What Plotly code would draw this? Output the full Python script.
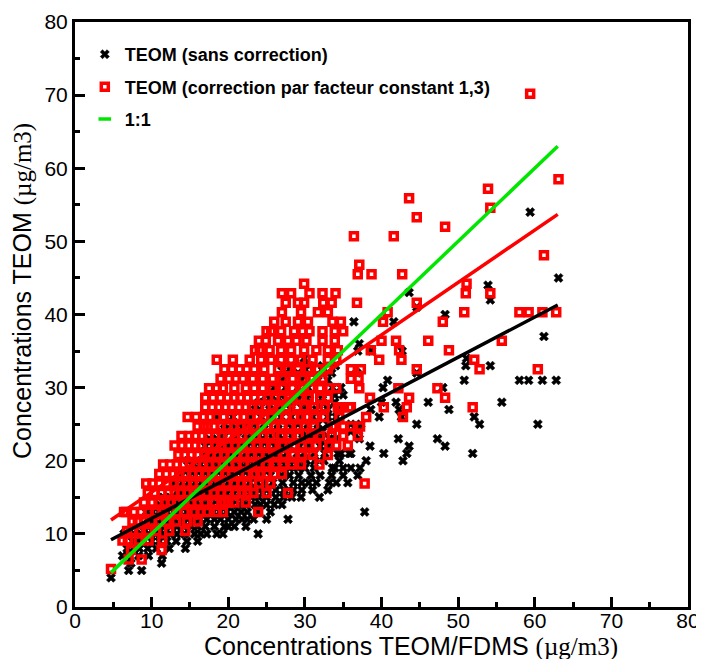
import plotly.graph_objects as go

# ---------------- data ----------------
# TEOM (raw) values lie on an integer grid; for every TEOM row, the FDMS x-values of its points
teom_rows = [4, 5, 6, 7, 8, 9, 10, 11, 12, 13, 14, 15, 16, 17, 18, 19, 20, 21, 22, 23, 24,
             25, 26, 27, 28, 29, 30, 31, 32, 33, 34, 35, 36, 37, 39, 40, 41, 42, 43, 44, 45, 54]
# the same rows after correction by the constant factor 1,3 (red squares)
teom_corr_rows = [5.2, 6.5, 7.8, 9.1, 10.4, 11.7, 13.0, 14.3, 15.6, 16.9, 18.2, 19.5, 20.8, 22.1,
                  23.4, 24.7, 26.0, 27.3, 28.6, 29.9, 31.2, 32.5, 33.8, 35.1, 36.4, 37.7, 39.0,
                  40.3, 41.6, 42.9, 44.2, 45.5, 46.8, 48.1, 50.7, 52.0, 53.3, 54.6, 55.9, 57.2,
                  58.5, 70.2]
fdms_by_row = [
    [4.7],
    [7.0, 8.7],
    [7.3, 11.3],
    [6.2, 6.9, 8.3, 9.6, 11.4],
    [6.8, 7.6, 8.4, 9.5, 10.6, 12.3, 14.4],
    [7.5, 8.2, 9.0, 10.0, 11.0, 12.0, 13.2, 14.6, 16.0],
    [6.4, 6.7, 7.7, 8.6, 9.6, 10.5, 11.5, 12.4, 13.3, 14.3, 15.6, 16.4, 17.2, 18.5, 19.3, 23.9],
    [9.0, 10.1, 10.9, 11.7, 12.5, 13.3, 14.2, 15.2, 16.0, 17.0, 18.2, 19.5, 20.0, 20.8, 22.3],
    [9.5, 10.4, 11.3, 12.2, 13.0, 13.8, 14.7, 15.5, 16.3, 17.2, 18.2, 19.0, 20.0, 21.0, 21.8,
     22.5, 23.3, 25.0, 27.8],
    [9.3, 10.1, 11.0, 12.0, 12.9, 13.7, 14.6, 15.4, 16.3, 17.2, 18.0, 18.9, 19.8, 20.8, 21.7,
     22.5, 24.0, 25.5, 37.8],
    [11.0, 11.9, 12.8, 13.6, 14.5, 15.3, 16.2, 17.0, 17.9, 18.8, 19.6, 20.5, 21.4, 22.3, 23.5,
     24.2, 25.0, 26.0, 27.0],
    [11.5, 12.4, 13.3, 14.1, 15.0, 15.8, 16.7, 17.5, 18.4, 19.3, 20.1, 21.0, 22.0, 23.0, 24.0,
     25.0, 26.2, 27.2, 28.3, 29.5, 31.9],
    [13.5, 14.3, 15.2, 16.0, 16.9, 17.7, 18.6, 19.5, 20.3, 21.2, 22.0, 23.0, 24.0, 25.0, 26.2,
     27.3, 28.5, 29.6, 31.0, 33.0],
    [13.0, 14.0, 14.8, 15.7, 16.5, 17.4, 18.3, 19.1, 20.0, 20.9, 21.8, 22.8, 23.8, 24.7, 25.8,
     27.1, 28.5, 29.6, 30.5, 31.5, 33.2, 34.1, 35.6],
    [13.9, 14.9, 15.7, 16.6, 17.4, 18.3, 19.2, 20.0, 20.9, 21.8, 22.7, 23.6, 24.5, 25.5, 26.9,
     28.0, 29.2, 30.8, 32.0, 33.5, 35.0, 36.9],
    [16.0, 16.8, 17.3, 18.2, 19.0, 19.9, 20.8, 21.6, 22.5, 23.4, 24.3, 25.2, 26.0, 27.0, 28.0,
     29.1, 30.0, 31.2, 33.6, 33.9, 35.0, 36.0, 37.2],
    [14.7, 15.8, 16.8, 17.6, 18.5, 19.4, 20.3, 21.2, 22.0, 22.9, 23.8, 24.7, 25.6, 26.5, 27.5,
     28.6, 29.5, 30.2, 31.3, 32.5, 34.5, 38.0, 42.8],
    [17.0, 17.9, 18.8, 19.6, 20.5, 21.4, 22.3, 23.1, 24.0, 24.9, 25.8, 26.7, 27.6, 29.0, 29.9,
     31.2, 32.6, 34.3, 34.7, 35.8, 36.0, 40.3, 43.3, 51.9],
    [17.0, 18.0, 19.0, 19.9, 20.8, 21.6, 22.5, 23.4, 24.3, 25.2, 26.1, 27.0, 28.0, 29.3, 30.5,
     32.0, 33.0, 38.5, 43.6, 48.3],
    [17.5, 18.5, 19.3, 20.8, 22.3, 23.4, 24.5, 25.8, 27.1, 28.4, 29.7, 30.8, 32.0, 33.2, 34.1,
     37.1, 42.2, 47.3],
    [19.0, 20.1, 21.0, 21.9, 23.2, 24.5, 25.8, 27.1, 28.4, 29.7, 31.0, 32.3, 36.0, 37.0],
    [19.5, 20.5, 21.5, 22.4, 23.4, 24.7, 26.5, 27.8, 29.1, 30.4, 31.7, 33.0, 36.0, 37.3, 44.6,
     52.8, 60.4],
    [18.5, 20.6, 22.8, 24.3, 25.6, 26.9, 28.2, 29.5, 31.0, 33.0, 34.1, 39.7, 42.6, 52.1],
    [23.5, 24.1, 25.4, 26.9, 28.2, 29.9, 31.5, 33.0, 34.3, 38.6, 42.3, 48.8],
    [24.0, 24.9, 26.5, 27.8, 28.9, 30.2, 32.3, 33.9, 40.0, 41.9, 46.1, 55.7],
    [25.0, 25.6, 26.9, 28.6, 29.7, 30.6, 32.3, 33.9, 35.0],
    [26.0, 27.5, 29.1, 30.4, 33.6, 34.7, 40.2, 48.0],
    [27.0, 29.5, 31.7, 33.0, 40.8, 50.8, 58.0, 59.2, 61.0, 62.8],
    [27.5, 29.1, 29.9, 32.4, 33.5, 36.8, 44.6],
    [27.0, 28.2, 30.6, 32.3, 34.0, 51.0, 54.2],
    [29.9, 51.1],
    [36.9, 38.7, 42.7],
    [37.1],
    [61.2],
    [36.4, 41.6],
    [48.3],
    [44.6],
    [54.2],
    [43.6],
    [53.9],
    [63.1],
    [59.4],
]

# fitted regression lines and the 1:1 line (end points)
fit_x = [4.7, 63.0]
fit_raw = [9.2, 41.3]
fit_corr = [11.9, 53.7]
one_to_one = [4.7, 63.0]

legend_labels = ["TEOM (sans correction)",
                 "TEOM (correction par facteur constant 1,3)",
                 "1:1"]

# ---------------- build point table ----------------
fdms, teom, teom_corr = [], [], []
for xs, yr, yc in zip(fdms_by_row, teom_rows, teom_corr_rows):
    for xv in xs:
        fdms.append(xv)
        teom.append(yr)
        teom_corr.append(yc)

SANS = "Liberation Sans, Arial, Helvetica, sans-serif"
SERIF = "Liberation Serif, Times New Roman, serif"
GREEN = "#00e600"

fig = go.Figure()
fig.add_trace(go.Scatter(
    x=fdms, y=teom, mode="markers", name=legend_labels[0], legendgroup="a",
    marker=dict(symbol="x", size=8, color="black", line=dict(width=0.6, color="black")),
))
fig.add_trace(go.Scatter(
    x=fdms, y=teom_corr, mode="markers", name=legend_labels[1], legendgroup="b",
    marker=dict(symbol="square-open", size=7, color="#ff0000", line=dict(width=3.5)),
))
fig.add_trace(go.Scatter(
    x=fit_x, y=fit_raw, mode="lines", showlegend=False, hoverinfo="skip",
    line=dict(color="black", width=3.5),
))
fig.add_trace(go.Scatter(
    x=fit_x, y=fit_corr, mode="lines", showlegend=False, hoverinfo="skip",
    line=dict(color="#ff0000", width=3.5),
))
fig.add_trace(go.Scatter(
    x=one_to_one, y=one_to_one, mode="lines", showlegend=False, legendgroup="c",
    line=dict(color=GREEN, width=3.5),
))
# legend entry of the 1:1 line (short dash symbol, as in the original)
fig.add_trace(go.Scatter(
    x=[None], y=[None], mode="markers", name=legend_labels[2], legendgroup="c",
    marker=dict(symbol="line-ew", size=9, color=GREEN, line=dict(width=3.5, color=GREEN)),
))

minor_ticks = dict(dtick=5, tick0=0, ticks="inside", ticklen=5, tickwidth=2.5,
                   tickcolor="black", showgrid=False)
axis_common = dict(
    range=[0, 80], dtick=10, tick0=0, tickmode="linear",
    showgrid=False, zeroline=False,
    showline=True, linecolor="black", linewidth=3, mirror=True,
    ticks="inside", ticklen=10, tickwidth=2.5, tickcolor="black",
    tickfont=dict(family=SANS, size=21, color="black"),
    minor=minor_ticks,
)

# the page body has an 8 px margin: the figure is drawn 8 px in from the top-left corner
fig.update_layout(
    template="none",
    width=696, height=651,
    margin=dict(l=67, r=16, t=14, b=52),
    paper_bgcolor="white", plot_bgcolor="white",
    font=dict(family=SANS, color="black"),
    xaxis=dict(**axis_common, ticklabelstandoff=-7),
    yaxis=dict(**axis_common),
    showlegend=True,
    legend=dict(
        x=0.016, y=0.976, xanchor="left", yanchor="top",
        bgcolor="rgba(0,0,0,0)", borderwidth=0,
        font=dict(family=SANS, size=18, color="black", weight="bold"),
        tracegroupgap=6,
    ),
    annotations=[
        dict(text="Concentrations TEOM/FDMS <span style='font-family:" + SERIF + "'>(µg/m3)</span>",
             xref="paper", yref="paper", x=0.548, y=-0.068,
             xanchor="center", yanchor="middle", showarrow=False,
             font=dict(family=SANS, size=25, color="black")),
        dict(text="Concentrations TEOM <span style='font-family:" + SERIF + "'>(µg/m3)</span>",
             xref="paper", yref="paper", x=-0.0865, y=0.54, textangle=-90,
             xanchor="center", yanchor="middle", showarrow=False,
             font=dict(family=SANS, size=25, color="black")),
    ],
)

fig.write_html("out.html")
